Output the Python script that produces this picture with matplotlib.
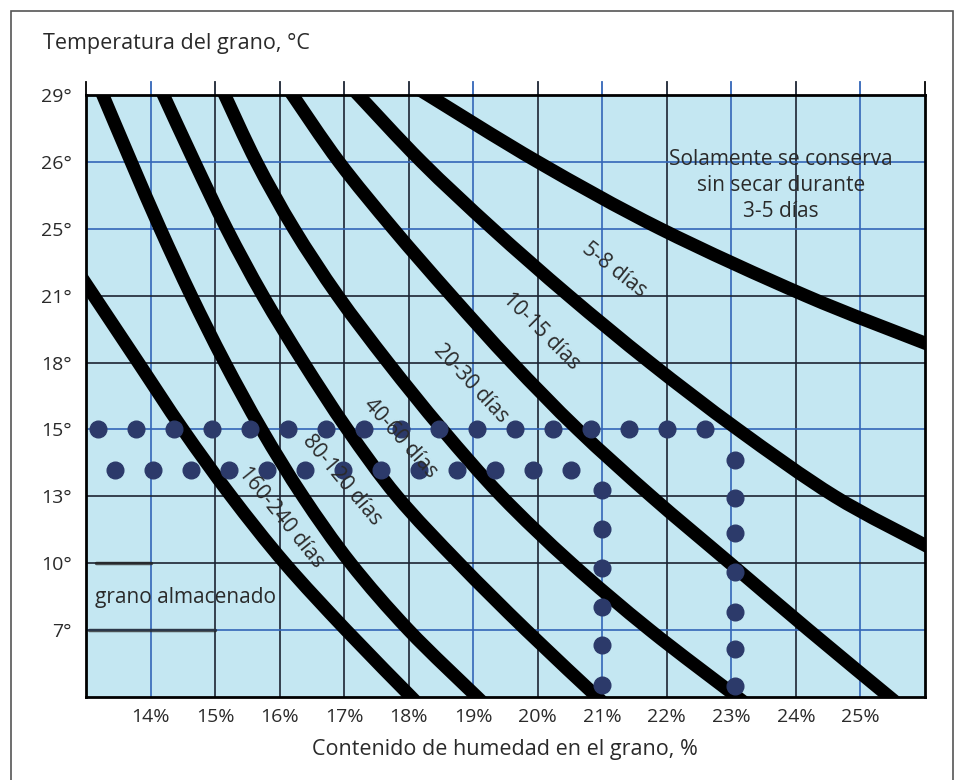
import matplotlib.pyplot as plt
from matplotlib.patches import Rectangle, PathPatch
from matplotlib.path import Path

plt.rcParams['font.family'] = ['Open Sans', 'DejaVu Sans']

# humidity axis (%) and temperature rows (evenly spaced, uneven labels)
x_ticks = list(range(13, 27))
x_labels = ['' if v in (13, 26) else '%d%%' % v for v in x_ticks]
y_rows = [1, 2, 3, 4, 5, 6, 7, 8, 9]
y_labels = ['7°', '10°', '13°', '15°', '18°', '21°', '25°', '26°', '29°']

# storage-time boundaries (x = humidity, y = row)
curve_a_x = [13.12, 13.81, 14.5, 15.25, 16.08, 17.03, 18.04]
curve_a_y = [6, 5, 4, 3, 2, 1, 0]
curve_b_x = [13.26, 13.70, 14.15, 14.63, 15.15, 15.72, 16.36, 17.1, 18.0, 19.06]
curve_b_y = [9, 8, 7, 6, 5, 4, 3, 2, 1, 0]
curve_c_x = [14.2, 14.68, 15.18, 15.74, 16.37, 17.05, 17.82, 18.78, 19.82, 20.92]
curve_c_y = [9, 8, 7, 6, 5, 4, 3, 2, 1, 0]
curve_d_x = [15.15, 15.64, 16.22, 16.9, 17.68, 18.52, 19.44, 20.52, 21.74, 23.09]
curve_d_y = [9, 8, 7, 6, 5, 4, 3, 2, 1, 0]
curve_e_x = [16.2, 16.92, 17.76, 18.66, 19.6, 20.62, 21.76, 22.98, 24.2, 25.45]
curve_e_y = [9, 8, 7, 6, 5, 4, 3, 2, 1, 0]
curve_f_x = [17.22, 18.2, 19.3, 20.48, 21.74, 23.1, 24.6, 26.0]
curve_f_y = [9, 8, 7, 6, 5, 4, 3, 2.27]
curve_g_x = [18.3, 20.0, 21.9, 24.15, 26.0]
curve_g_y = [9, 8, 7, 6, 5.29]

curves = [(curve_a_x, curve_a_y), (curve_b_x, curve_b_y), (curve_c_x, curve_c_y),
          (curve_d_x, curve_d_y), (curve_e_x, curve_e_y), (curve_f_x, curve_f_y),
          (curve_g_x, curve_g_y)]

# dotted guide lines
dots_15_x = [13.19, 13.77, 14.36, 14.95, 15.54, 16.13, 16.72, 17.31, 17.88, 18.47,
             19.06, 19.65, 20.24, 20.82, 21.41, 22.00, 22.59]
dots_15_row = 4.0
dots_14_x = [13.45, 14.04, 14.63, 15.22, 15.80, 16.39, 16.98, 17.57, 18.16, 18.75,
             19.34, 19.93, 20.51]
dots_14_row = 3.39
dots_21_y = [3.09, 2.51, 1.93, 1.35, 0.78, 0.18]
dots_21_col = 21.0
dots_23_y = [3.54, 2.97, 2.45, 1.87, 1.27, 0.72, 0.16]
dots_23_col = 23.06

# dark strokes bracketing "grano almacenado"
stored_rows = [2, 1]
stored_x_start = [13.15, 13.05]
stored_x_end = [14.0, 15.0]

dark = '#1c2433'
blue = '#3366b8'
vcolors = {14: blue, 15: dark, 16: dark, 17: dark, 18: dark, 19: blue, 20: dark,
           21: blue, 22: dark, 23: blue, 24: dark, 25: blue}
hcolors = {1: blue, 2: dark, 3: dark, 4: blue, 5: dark, 6: dark, 7: blue, 8: blue}


def smooth_path(xs, ys):
    # Catmull-Rom through the read points, drawn as cubic Bezier pieces,
    # with short straight run-outs so the thick stroke reaches the frame
    pts = list(zip(xs, ys))
    n = len(pts)
    def tang(i):
        a = pts[max(i - 1, 0)]
        b = pts[min(i + 1, n - 1)]
        return (b[0] - a[0]) / 6.0, (b[1] - a[1]) / 6.0
    t0 = tang(0)
    t1 = tang(n - 1)
    verts = [(pts[0][0] - 2 * t0[0], pts[0][1] - 2 * t0[1]), pts[0]]
    codes = [Path.MOVETO, Path.LINETO]
    for i in range(n - 1):
        ta, tb = tang(i), tang(i + 1)
        verts += [(pts[i][0] + ta[0], pts[i][1] + ta[1]),
                  (pts[i + 1][0] - tb[0], pts[i + 1][1] - tb[1]), pts[i + 1]]
        codes += [Path.CURVE4] * 3
    verts.append((pts[-1][0] + 2 * t1[0], pts[-1][1] + 2 * t1[1]))
    codes.append(Path.LINETO)
    return Path(verts, codes)


fig = plt.figure(figsize=(9.55, 7.8), dpi=100)
ax = fig.add_axes([86 / 955, 1 - 697 / 780, 839 / 955, 602 / 780])
ax.set_facecolor('#c4e7f2')
ax.set_xlim(13, 26)
ax.set_ylim(0, 9)

for v, c in vcolors.items():
    ax.axvline(v, color=c, lw=1.2, zorder=1)
for r, c in hcolors.items():
    ax.axhline(r, color=c, lw=1.2, zorder=1)

# tick marks above the top edge
for v in x_ticks:
    ax.plot([v, v], [9, 9.19], color=vcolors.get(v, 'black'), lw=1.3,
            clip_on=False, zorder=1)

for xs, ys in curves:
    ax.add_patch(PathPatch(smooth_path(xs, ys), fill=False, ec='black', lw=9.5,
                           capstyle='butt', joinstyle='round', zorder=3))

dot_style = dict(ls='none', marker='o', ms=12, color='#2c3a6a', zorder=4)
ax.plot(dots_15_x, [dots_15_row] * len(dots_15_x), **dot_style)
ax.plot(dots_14_x, [dots_14_row] * len(dots_14_x), **dot_style)
ax.plot([dots_21_col] * len(dots_21_y), dots_21_y, **dot_style)
ax.plot([dots_23_col] * len(dots_23_y), dots_23_y, **dot_style)

for r, x0, x1 in zip(stored_rows, stored_x_start, stored_x_end):
    ax.plot([x0, x1], [r, r], color='#222222', lw=2.5, alpha=0.75,
            solid_capstyle='round', zorder=2)

ax.set_xticks(x_ticks)
ax.set_xticklabels(x_labels)
ax.set_yticks(y_rows)
ax.set_yticklabels(y_labels)
ax.tick_params(axis='both', length=0, labelsize=14, colors='#2a2a2a')
ax.tick_params(axis='x', pad=8)
ax.tick_params(axis='y', pad=10)
for s in ax.spines.values():
    s.set_color('black')
    s.set_linewidth(2)

txt = dict(fontsize=15, color='#2a2a2a', zorder=5)
ax.text(23.77, 7.65, 'Solamente se conserva\nsin secar durante\n3-5 días',
        ha='center', va='center', linespacing=1.3, **txt)
labels = [('5-8 días', 21.18, 6.38, -38), ('10-15 días', 20.05, 5.47, -45),
          ('20-30 días', 18.97, 4.68, -47), ('40-60 días', 17.87, 3.87, -48),
          ('80-120 días', 16.97, 3.24, -50), ('160-240 días', 16.02, 2.68, -51)]
for s, x, y, rot in labels:
    ax.text(x, y, s, ha='center', va='center', rotation=rot,
            rotation_mode='anchor', **txt)
ax.text(13.14, 1.49, 'grano almacenado', ha='left', va='center', **txt)

fig.text(43 / 955, 1 - 43 / 780, 'Temperatura del grano, °C', ha='left',
         va='center', fontsize=15.5, color='#2a2a2a')
fig.text(505 / 955, 1 - 750 / 780, 'Contenido de humedad en el grano, %',
         ha='center', va='center', fontsize=15.5, color='#2a2a2a')

fig.add_artist(Rectangle((11 / 955, -0.01), 942 / 955, 1 - 11 / 780 + 0.01,
                         transform=fig.transFigure, fill=False, ec='#555555', lw=1.2))

fig.savefig('out.png', dpi=100)
